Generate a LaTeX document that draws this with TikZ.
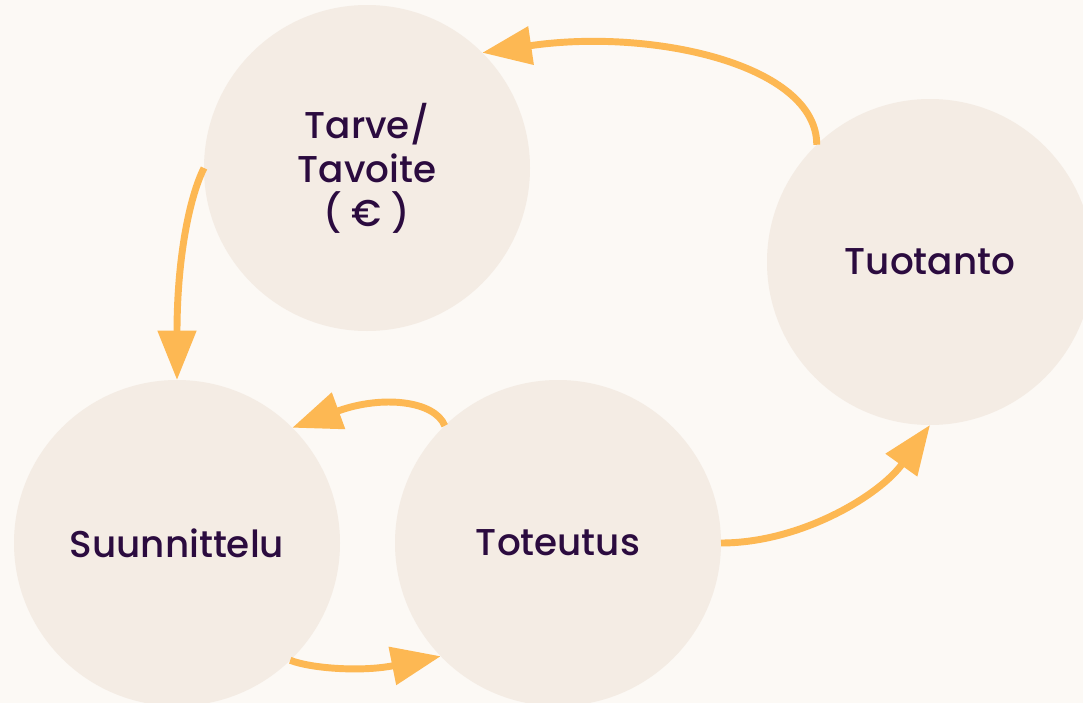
\documentclass[tikz,border=0pt]{standalone}
\usepackage{fontspec}
\setmainfont{Poppins Medium}
\usetikzlibrary{arrows.meta}
\definecolor{bgcol}{HTML}{FCF9F5}
\definecolor{discol}{HTML}{F4ECE4}
\definecolor{arrcol}{HTML}{FDB853}
\definecolor{txtcol}{HTML}{2B0B3F}
\begin{document}
\begin{tikzpicture}[x=0.75pt,y=-0.75pt,
  stage/.style={circle,fill=discol,draw=none,minimum size=244.5pt,inner sep=0pt,outer sep=0pt,
    text=txtcol,font=\fontsize{28}{33}\selectfont,align=center},
  flow/.style={draw=arrcol,line width=5.2pt,-{Triangle[length=37pt,width=28pt]}}]
  \fill[bgcol] (0,0) rectangle (1083,703);
  \useasboundingbox (0,0) rectangle (1083,703);

  \node[stage] (tarve) at (367,168) {Tarve/\\Tavoite\\( € )};
  \node[stage] (tuot) at (930,262) {Tuotanto};
  \node[stage] (suun) at (177,543) {Suunnittelu};
  \node[stage] (tot) at (558,543) {Toteutus};

  \draw[flow] (tuot.134) .. controls +(0,-80) and +(170,-25) .. (tarve.45);
  \draw[flow] (tarve.180) .. controls +(-15,30) and +(0,-120) .. (suun.90);
  \draw[flow] (tot.134) .. controls +(-10,-25) and +(90,-33) .. (suun.45);
  \draw[flow] (suun.-46) .. controls +(20,8) and +(-80,16) .. (tot.224);
  \draw[flow] (tot.0) .. controls +(80,0) and +(-50,70) .. (tuot.270);
\end{tikzpicture}
\end{document}
